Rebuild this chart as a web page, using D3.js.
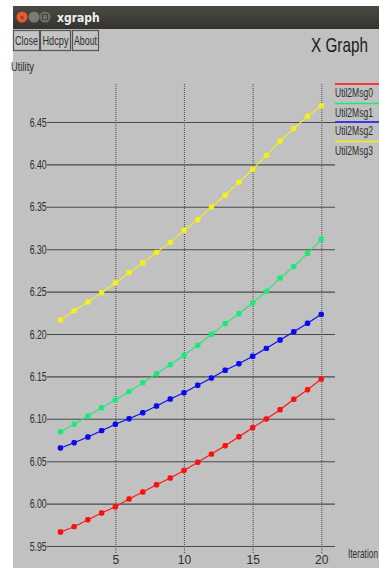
<!DOCTYPE html>
<html>
<head>
<meta charset="utf-8">
<script src="https://cdn.jsdelivr.net/npm/d3@7"></script>
<style>
  html, body { margin: 0; padding: 0; background: #ffffff; overflow: hidden; }
  svg { display: block; }
  text { font-family: "Liberation Sans", Arial, sans-serif; }
</style>
</head>
<body>
<svg id="chart" width="379" height="568"></svg>
<script>
// Iterations on the x axis
const iterations = d3.range(1, 21);

// Utility per iteration for each message series
const util2Msg0 = [5.9665, 5.9728, 5.9810, 5.9889, 5.9963, 6.0054, 6.0136, 6.0222, 6.0302, 6.0391,
                   6.0487, 6.0584, 6.0683, 6.0789, 6.0895, 6.0998, 6.1107, 6.1230, 6.1343, 6.1469];
const util2Msg1 = [6.0848, 6.0935, 6.1033, 6.1131, 6.1222, 6.1320, 6.1426, 6.1532, 6.1638, 6.1749,
                   6.1867, 6.1997, 6.2122, 6.2239, 6.2366, 6.2503, 6.2660, 6.2794, 6.2952, 6.3117];
const util2Msg2 = [6.0656, 6.0718, 6.0785, 6.0860, 6.0935, 6.1001, 6.1072, 6.1151, 6.1233, 6.1308,
                   6.1395, 6.1481, 6.1572, 6.1650, 6.1737, 6.1831, 6.1929, 6.2027, 6.2126, 6.2232];
const util2Msg3 = [6.2165, 6.2275, 6.2377, 6.2487, 6.2601, 6.2723, 6.2837, 6.2963, 6.3081, 6.3223,
                   6.3348, 6.3498, 6.3636, 6.3789, 6.3942, 6.4107, 6.4276, 6.4425, 6.4567, 6.4692];

const seriesNames = ["Util2Msg0", "Util2Msg1", "Util2Msg2", "Util2Msg3"];
const seriesColors = ["#ff1010", "#1ee87a", "#0a0af0", "#f6f01a"];
const seriesValues = [util2Msg0, util2Msg1, util2Msg2, util2Msg3];

const yTickValues = [5.95, 6.00, 6.05, 6.10, 6.15, 6.20, 6.25, 6.30, 6.35, 6.40, 6.45];
const xTickValues = [5, 10, 15, 20];
const buttonLabels = ["Close", "Hdcpy", "About"];

const svg = d3.select("#chart");
const W = 379, H = 568;
const textColor = "#2e2e2e";

// narrow X11-style text: draw at (x, y) and squeeze horizontally to a width
function narrowText(parent, str, x, y, size, width, color, anchor) {
  const t = parent.append("text").attr("font-size", size).attr("fill", color || textColor).text(str);
  const k = width / t.node().getComputedTextLength();
  const dx = anchor === "end" ? -width : anchor === "middle" ? -width / 2 : 0;
  t.attr("transform", `translate(${x + dx},${y}) scale(${k},1)`);
  return t;
}

// window body
svg.append("rect").attr("x", 13).attr("y", 6).attr("width", W - 13).attr("height", H - 6).attr("fill", "#c1c1c1");

// title bar
const tb = svg.append("g");
const tbGrad = svg.append("defs").append("linearGradient").attr("id", "tbg").attr("x1", 0).attr("x2", 0).attr("y1", 0).attr("y2", 1);
tbGrad.append("stop").attr("offset", "0").attr("stop-color", "#4a4944");
tbGrad.append("stop").attr("offset", "1").attr("stop-color", "#34332f");
tb.append("rect").attr("x", 13).attr("y", 6).attr("width", W - 13).attr("height", 23).attr("fill", "url(#tbg)");
tb.append("circle").attr("cx", 22).attr("cy", 17).attr("r", 5.5).attr("fill", "#e9592b");
tb.append("text").attr("x", 22).attr("y", 19.5).attr("text-anchor", "middle").attr("font-size", 7).attr("fill", "#5a2a14").text("×");
tb.append("circle").attr("cx", 34).attr("cy", 17).attr("r", 5.5).attr("fill", "#7b7a75");
tb.append("circle").attr("cx", 45).attr("cy", 17).attr("r", 5.5).attr("fill", "#6f6e69");
tb.append("rect").attr("x", 42.5).attr("y", 14.5).attr("width", 5).attr("height", 5).attr("fill", "none").attr("stroke", "#3a3935").attr("stroke-width", 0.8);
tb.append("text").attr("x", 57).attr("y", 22).attr("font-size", 12).attr("font-weight", "bold")
  .attr("fill", "#f0f0f0").style("font-family", "'DejaVu Sans Condensed', 'Liberation Sans', sans-serif").text("xgraph");

// buttons
const btnX = [13, 40, 72];
const btnW = [27, 31, 27];
const btnTextW = [23, 26, 23];
buttonLabels.forEach((b, i) => {
  svg.append("rect").attr("x", btnX[i] + 0.5).attr("y", 30.5).attr("width", btnW[i] - 1).attr("height", 20)
    .attr("fill", "#c4c4c4").attr("stroke", "#555555").attr("stroke-width", 1.2);
  narrowText(svg, b, btnX[i] + btnW[i] / 2, 45, 12, btnTextW[i], textColor, "middle");
});

// title and axis names
narrowText(svg, "X Graph", 311, 52, 20, 57, "#1a1a1a");
narrowText(svg, "Utility", 11, 71, 12, 23);
narrowText(svg, "Iteration", 348, 558, 12.5, 30);

// scales
const x = d3.scaleLinear().domain([0, 21]).range([46.7, 335]);
const y = d3.scaleLinear().domain([5.95, 6.45]).range([546, 122]);
const gridTop = 84, gridBottom = 553;

// horizontal grid
const yAxis = d3.axisLeft(y).tickValues(yTickValues).tickFormat("")
  .tickSize(-(x.range()[1] - x.range()[0]));
const gy = svg.append("g").attr("transform", `translate(${x.range()[0]},0)`).call(yAxis);
gy.select(".domain").remove();
gy.selectAll(".tick line").attr("stroke", "#4a4a4a").attr("stroke-width", 1.1);
// y labels, right-aligned against the grid
const fmt = d3.format(".2f");
yTickValues.forEach(v => narrowText(svg, fmt(v), x.range()[0], y(v) + 4.5, 13, 17, textColor, "end"));

// vertical dotted grid + x labels
const xAxis = d3.axisBottom(x).tickValues(xTickValues).tickFormat(d3.format("d"))
  .tickSize(-(gridBottom - gridTop)).tickPadding(2);
const gx = svg.append("g").attr("transform", `translate(0,${gridBottom})`).call(xAxis);
gx.select(".domain").remove();
gx.selectAll(".tick line").attr("stroke", "#555555").attr("stroke-width", 1.1).attr("stroke-dasharray", "1,1");
gx.selectAll(".tick text").attr("font-size", 12).attr("fill", textColor)
  .style("font-family", "'Liberation Sans', sans-serif");

// series
const line = d3.line().x((d, i) => x(iterations[i])).y(d => y(d));
seriesValues.forEach((vals, s) => {
  const g = svg.append("g");
  g.append("path").datum(vals).attr("d", line).attr("fill", "none")
    .attr("stroke", seriesColors[s]).attr("stroke-width", 1.1);
  g.selectAll("rect").data(vals).join("rect")
    .attr("x", (d, i) => x(iterations[i]) - 2.7).attr("y", d => y(d) - 2.7)
    .attr("width", 5.4).attr("height", 5.4).attr("rx", 1.8)
    .attr("fill", seriesColors[s]);
});

// legend
const legY = [84, 103.5, 122, 141.5];
seriesNames.forEach((n, i) => {
  svg.append("line").attr("x1", 335).attr("x2", W).attr("y1", legY[i]).attr("y2", legY[i])
    .attr("stroke", seriesColors[i]).attr("stroke-width", 1.3);
  narrowText(svg, n, 335, legY[i] + 13, 13, 38);
});
</script>
</body>
</html>
